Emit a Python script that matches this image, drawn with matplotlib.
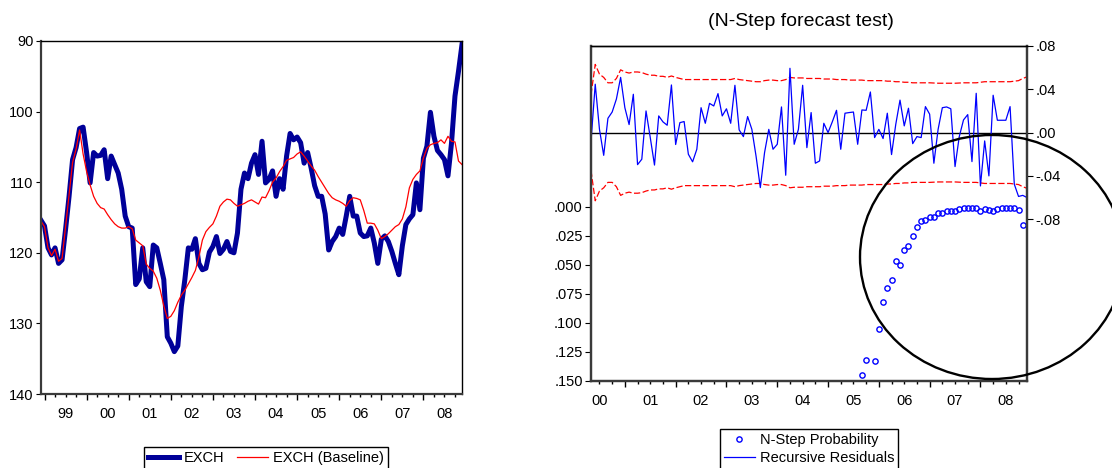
import matplotlib
matplotlib.use("Agg")
import matplotlib.pyplot as plt
from matplotlib.patches import Ellipse
import numpy as np
import pandas as pd

plt.rcParams['font.family'] = ['Liberation Sans', 'DejaVu Sans']

# ---- left panel: EXCH vs baseline, monthly 1998M12 - 2008M12
exch_start = '1998-12'
exch = [115.4, 116.2, 119.3, 120.3, 119.3, 121.5, 121.0, 116.7, 112.0, 106.8,
        105.1, 102.4, 102.2, 105.8, 110.1, 105.8, 106.3, 106.2, 105.4, 109.5,
        106.3, 107.5, 108.7, 111.0, 114.8, 116.3, 116.5, 124.5, 123.7, 119.3,
        124.1, 124.8, 118.9, 119.3, 121.5, 123.8, 131.9, 132.8, 134.0, 133.2,
        127.6, 123.8, 119.3, 119.5, 118.0, 121.5, 122.4, 122.2, 119.9, 119.1,
        117.7, 120.1, 119.5, 118.4, 119.8, 120.0, 117.2, 111.0, 108.7, 109.5,
        107.3, 106.1, 108.9, 104.2, 110.1, 109.6, 108.4, 112.0, 109.5, 111.0,
        106.3, 103.1, 104.0, 103.6, 104.4, 107.3, 105.8, 108.0, 110.5, 112.0,
        112.0, 114.5, 119.6, 118.4, 117.7, 116.5, 117.4, 114.8, 112.0, 114.8,
        114.8, 117.2, 117.7, 117.6, 116.5, 118.6, 121.5, 118.1, 117.6, 118.4,
        119.8, 121.5, 123.1, 119.0, 116.0, 115.2, 114.6, 110.1, 113.9, 106.6,
        104.9, 100.1, 103.5, 105.5, 106.1, 106.8, 109.1, 104.5, 97.8, 94.3,
        90.5]
exch_base = [115.5, 116.3, 119.3, 120.4, 119.5, 121.2, 120.8, 116.3, 111.8, 107.2,
             105.3, 102.6, 106.0, 108.5, 110.4, 112.0, 113.0, 113.6, 113.8, 114.6,
             115.3, 115.9, 116.3, 116.5, 116.5, 116.3, 116.6, 118.2, 118.6, 119.0,
             121.6, 122.2, 122.6, 123.6, 125.3, 127.5, 129.3, 129.0, 128.2, 127.0,
             126.0, 125.3, 124.4, 123.5, 122.5, 120.6, 118.2, 117.0, 116.4, 115.9,
             114.8, 113.4, 112.8, 112.4, 112.5, 113.0, 113.4, 113.2, 113.0, 112.7,
             112.5, 112.8, 113.1, 112.1, 112.2, 111.2, 110.0, 109.4, 108.5, 107.8,
             106.9, 106.7, 106.5, 106.0, 105.7, 106.3, 107.0, 107.7, 108.3, 109.2,
             110.0, 110.8, 111.6, 112.2, 112.5, 112.7, 113.0, 113.4, 112.6, 112.2,
             112.3, 112.5, 114.0, 115.8, 115.8, 115.9, 116.8, 118.0, 117.7, 117.3,
             116.8, 116.3, 116.0, 115.2, 113.5, 110.8, 109.6, 108.9, 108.4, 106.6,
             105.2, 104.7, 104.5, 104.4, 104.0, 104.5, 103.5, 104.2, 104.3, 107.0,
             107.5]
left_yticks = [90, 100, 110, 120, 130, 140]

# ---- right panel: N-step forecast test, monthly 2000M05 - 2008M12
res_start = '2000-05'
resid = [-0.008, 0.0447, 0.003, -0.021, 0.0132, 0.019, 0.031, 0.051, 0.023, 0.0074,
         0.0354, -0.0296, -0.0246, 0.020, -0.0046, -0.030, 0.0154, 0.0099, 0.0068, 0.044,
         -0.011, 0.0092, 0.0102, -0.020, -0.027, -0.0154, 0.023, 0.0086, 0.027, 0.0246,
         0.036, 0.0154, 0.022, 0.0086, 0.0437, 0.0025, -0.0037, 0.0148, 0.003, -0.022,
         -0.0508, -0.0185, 0.003, -0.0154, -0.0108, 0.0237, -0.0394, 0.0594, -0.0108, 0.003,
         0.0437, -0.0139, 0.0185, -0.0283, -0.0262, 0.0086, 0.0, 0.0099, 0.0206, -0.0154,
         0.0179, 0.0185, 0.019, -0.0108, 0.0209, 0.0206, 0.0375, -0.0046, 0.003, -0.0055,
         0.0179, -0.0203, 0.0077, 0.030, 0.0062, 0.0225, -0.0102, -0.0037, -0.0046, 0.024,
         0.017, -0.0283, 0.003, 0.023, 0.0237, 0.022, -0.0314, -0.0037, 0.0117, 0.0166,
         -0.0268, 0.0363, -0.0493, -0.0077, -0.040, 0.0345, 0.0114, 0.0114, 0.0114, 0.024,
         -0.0477, -0.059, -0.058, -0.060]
# two standard error band (half width)
band = [0.035, 0.063, 0.054, 0.051, 0.046, 0.046, 0.050, 0.058, 0.056, 0.055,
        0.056, 0.056, 0.0555, 0.054, 0.053, 0.053, 0.052, 0.052, 0.051, 0.0523,
        0.051, 0.050, 0.049, 0.049, 0.049, 0.049, 0.049, 0.049, 0.049, 0.049,
        0.049, 0.049, 0.049, 0.049, 0.050, 0.049, 0.0485, 0.048, 0.0475, 0.047,
        0.047, 0.048, 0.0485, 0.0485, 0.048, 0.048, 0.049, 0.051, 0.0505, 0.0505,
        0.0505, 0.050, 0.050, 0.050, 0.050, 0.0495, 0.0495, 0.0495, 0.049, 0.049,
        0.049, 0.0485, 0.0485, 0.0485, 0.0485, 0.048, 0.048, 0.048, 0.048, 0.048,
        0.0475, 0.0475, 0.047, 0.047, 0.0465, 0.0465, 0.046, 0.046, 0.046, 0.046,
        0.046, 0.0458, 0.0456, 0.0456, 0.0456, 0.0456, 0.0456, 0.0458, 0.046, 0.046,
        0.046, 0.046, 0.0465, 0.047, 0.047, 0.047, 0.047, 0.047, 0.047, 0.047,
        0.0475, 0.048, 0.050, 0.0515]
# N-step probabilities (only the ones inside the .000-.150 window), from 2005M09
prob_start = '2005-09'
prob = [0.145, 0.132, None, 0.133,
        0.105, 0.082, 0.070, 0.063, 0.047, 0.0505, 0.037, 0.034, 0.025, 0.0175, 0.012, 0.011,
        0.0086, 0.009, 0.0057, 0.0049, 0.004, 0.0034, 0.004, 0.0023, 0.0014, 0.0011, 0.0011, 0.0014,
        0.0034, 0.002, 0.0028, 0.0034, 0.002, 0.0011, 0.0006, 0.0006, 0.0008, 0.0031, 0.0155, None]
prob_ticks = [0.0, 0.025, 0.05, 0.075, 0.1, 0.125, 0.15]
prob_labels = ['.000', '.025', '.050', '.075', '.100', '.125', '.150']
res_ticks = [0.08, 0.04, 0.0, -0.04, -0.08]
res_labels = ['.08', '.04', '.00', '-.04', '-.08']


def month_x(start, n):
    p = pd.period_range(start, periods=n, freq='M')
    return np.asarray(p.year + (p.month - 1) / 12.0, dtype=float)


def year_axis(ax, x0, x1, first, last):
    ax.set_xlim(x0, x1)
    ax.set_xticks(np.arange(first, last + 1))
    ax.set_xticklabels([])
    q = [y + f for y in range(first - 1, last + 1) for f in (0.25, 0.5, 0.75)]
    q = [v for v in q if x0 <= v <= x1]
    ax.set_xticks(q, minor=True)
    ax.set_xticklabels(['%02d' % (int(v) % 100) if abs(v % 1 - 0.5) < 1e-6 else ''
                        for v in q], minor=True)
    ax.tick_params(axis='x', which='major', direction='out', length=4.5, width=1)
    ax.tick_params(axis='x', which='minor', direction='out', length=2.2, width=1,
                   pad=7, labelsize=10.5)


def style_spines(ax, dark=('left', 'bottom')):
    for name, sp in ax.spines.items():
        if name in dark:
            sp.set_color('#3a3a3a')
            sp.set_linewidth(1.6)
        else:
            sp.set_color('black')
            sp.set_linewidth(1.0)


fig = plt.figure(figsize=(11.12, 4.68), dpi=100)
W, H = 1112.0, 468.0

# ---------------- left chart
ax1 = fig.add_axes([41 / W, 1 - 394 / H, 421 / W, 353 / H])
xl = month_x(exch_start, len(exch))
l1, = ax1.plot(xl, exch, color='#000099', lw=3.6, solid_joinstyle='round',
               label='EXCH')
l2, = ax1.plot(xl, exch_base, color='#ff0000', lw=0.9, label='EXCH (Baseline)')
ax1.set_ylim(140, 90)
ax1.set_yticks(left_yticks)
ax1.set_yticklabels([str(v) for v in left_yticks])
ax1.tick_params(axis='y', direction='out', length=3.5, pad=2, labelsize=10.5)
year_axis(ax1, xl[0], xl[-1], 1999, 2008)
style_spines(ax1)

fig.legend([l1, l2], ['EXCH', 'EXCH (Baseline)'], loc='upper center',
           bbox_to_anchor=(266 / W, 1 - 447 / H), ncol=2, frameon=True,
           fancybox=False, edgecolor='black', framealpha=1, fontsize=10.5,
           handlelength=2.1, handletextpad=0.35, columnspacing=0.9,
           borderpad=0.3, borderaxespad=0)

# ---------------- right chart
axp = fig.add_axes([591 / W, 1 - 381 / H, 436 / W, 335 / H])
axr = axp.twinx()
xr = month_x(res_start, len(resid))
xp = month_x(prob_start, len(prob))
pvals = np.array([np.nan if v is None else v for v in prob])

pts, = axp.plot(xp, pvals, linestyle='none', marker='o', markersize=3.8,
                markerfacecolor='none', markeredgecolor='#0000ff', markeredgewidth=1,
                label='N-Step Probability')
axp.set_ylim(0.15, -0.1385)
axp.set_yticks(prob_ticks)
axp.set_yticklabels(prob_labels)
axp.tick_params(axis='y', direction='out', length=4, pad=2, labelsize=10.5)

bnd = np.array(band)
axr.axhline(0, color='black', lw=1)
axr.plot(xr, bnd, color='#ff0000', lw=0.9, ls=(0, (5, 2)))
axr.plot(xr, -bnd, color='#ff0000', lw=0.9, ls=(0, (5, 2)))
rl, = axr.plot(xr, resid, color='#0000ff', lw=0.9, label='Recursive Residuals')
axr.set_ylim(-0.2295, 0.08)
axr.set_yticks(res_ticks)
axr.set_yticklabels(res_labels)
axr.tick_params(axis='y', direction='out', length=4, pad=2, labelsize=10.5)
year_axis(axp, xr[0], xr[-1], 2001, 2008)
style_spines(axp, dark=('left', 'bottom', 'right'))
style_spines(axr, dark=('left', 'bottom', 'right'))

fig.text(801 / W, 1 - 22 / H, '(N-Step forecast test)', ha='center', va='center',
         fontsize=14)

fig.legend([pts, rl], ['N-Step Probability', 'Recursive Residuals'],
           loc='upper center', bbox_to_anchor=(809 / W, 1 - 429 / H), ncol=1,
           frameon=True, fancybox=False, edgecolor='black', framealpha=1,
           fontsize=10.5, handlelength=2.1, handletextpad=0.35, labelspacing=0.3,
           borderpad=0.25, borderaxespad=0)

# hand drawn circle highlighting the late sample
fig.add_artist(Ellipse((992 / W, 1 - 257 / H), 264 / W, 244 / H,
                       transform=fig.transFigure, fill=False, ec='black', lw=1.7))

fig.savefig('out.png', dpi=100)
